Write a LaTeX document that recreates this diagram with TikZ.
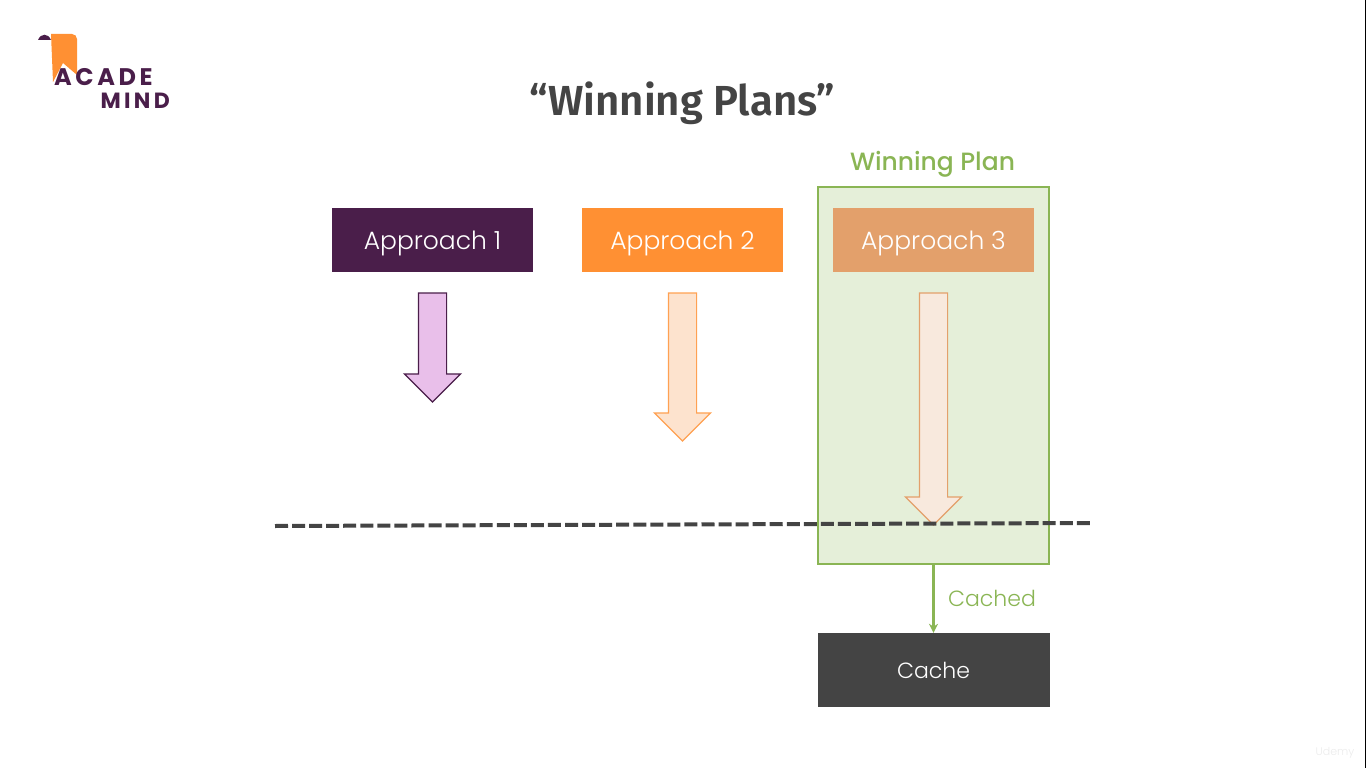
\documentclass[tikz,border=0pt]{standalone}
\usepackage{fontspec}
\setmainfont{Poppins Light}
\newfontfamily\titlefont{Fira Sans}[UprightFont=* SemiBold]
\newfontfamily\medfont{Poppins Medium}
\newfontfamily\logofont{Poppins}[UprightFont=* Bold,LetterSpace=15]
\newfontfamily\logofontb{Poppins}[UprightFont=* Bold,LetterSpace=15]
\usetikzlibrary{arrows.meta,positioning,shapes.arrows}

\definecolor{darkpurple}{HTML}{4A1E4A}
\definecolor{brightorange}{HTML}{FF9033}
\definecolor{paleorange}{HTML}{E3A06B}
\definecolor{plangreen}{HTML}{8AB554}
\definecolor{planfill}{HTML}{E5EFD9}
\definecolor{darkgrey}{HTML}{444444}
\definecolor{pinkfill}{HTML}{E9BFEA}
\definecolor{peachfill}{HTML}{FDE3CE}
\definecolor{creamfill}{HTML}{F8E9DD}

\tikzset{
  approach/.style={minimum width=201pt,minimum height=64pt,inner sep=0pt,outer sep=0pt,text=white,
    text height=18pt,text depth=0pt,font=\fontsize{25}{30}\selectfont},
  runarrow/.style={draw,line width=1.2pt,single arrow,rotate=-90,anchor=tail,inner sep=13.5pt,outer sep=0pt,
    single arrow head extend=14pt,single arrow tip angle=90,single arrow head indent=0pt},
  greentext/.style={text=plangreen,font=\fontsize{22}{26}\selectfont}
}

\begin{document}
\begin{tikzpicture}[x=1pt,y=-1pt]
\useasboundingbox (0,0) rectangle (1366,768);

% logo
\fill[brightorange] (51,34) -- (72,34) to[out=0,in=90] (77,39) -- (77,75) -- (63,63) -- (53,82) -- cycle;
\fill[darkpurple] (38,40) .. controls (41,33) and (48,33) .. (51,40) -- cycle;
\node[anchor=west,inner sep=0pt,text=darkpurple,font=\logofont\fontsize{24}{26}\selectfont] (L1) at (54,77) {ACADE};
\node[anchor=east,inner sep=0pt,text=darkpurple,font=\logofontb\fontsize{22}{24}\selectfont] (L2) at (170,101) {MIND};

\node[text=darkgrey,font=\titlefont\fontsize{42}{48}\selectfont] (T) at (682.5,103) {“Winning Plans”};

% green box goes first, the rest sits on it
\node[draw=plangreen,fill=planfill,line width=1.5pt,minimum width=231pt,minimum height=377pt,inner sep=0pt] (W) at (933.5,375.5) {};
\node[text=plangreen,font=\medfont\fontsize{25}{30}\selectfont] (WL) at (932.5,164) {Winning Plan};

\node[approach,fill=darkpurple] (A1) at (432.5,240) {Approach 1};
\node[approach,fill=brightorange,right=49pt of A1] (A2) {Approach 2};
\node[approach,fill=paleorange,right=50pt of A2] (A3) {Approach 3};

\node[runarrow,draw=darkpurple,fill=pinkfill,minimum height=109pt] (R1) at ([yshift=-21pt]A1.south) {};
\node[runarrow,draw=brightorange!85!white,fill=peachfill,minimum height=148pt] (R2) at ([yshift=-21pt]A2.south) {};
\node[runarrow,draw=paleorange,fill=creamfill,minimum height=232pt] (R3) at ([yshift=-21pt]A3.south) {};

\coordinate (DL) at (275,526);
\coordinate (DR) at (1090,523);
\draw[darkgrey,line width=4pt,dash pattern=on 13pt off 4.06pt] (DL) -- (DR);

\node[fill=darkgrey,minimum width=232pt,minimum height=74pt,inner sep=0pt,text=white,
  text height=16pt,text depth=0pt,font=\fontsize{22}{26}\selectfont] (C) at (933.5,670) {Cache};
\draw[plangreen,line width=2.5pt,-{Stealth[length=9pt,width=9pt]}] (W) -- (C) node[midway,right=10pt,greentext] (CL) {Cached};

\node[text=black!8,font=\fontsize{11}{12}\selectfont] (U) at (1335,753) {Udemy};

% dark strip on the right edge
\fill[black] (1364.7,0) rectangle (1366,768);
\end{tikzpicture}
\end{document}
